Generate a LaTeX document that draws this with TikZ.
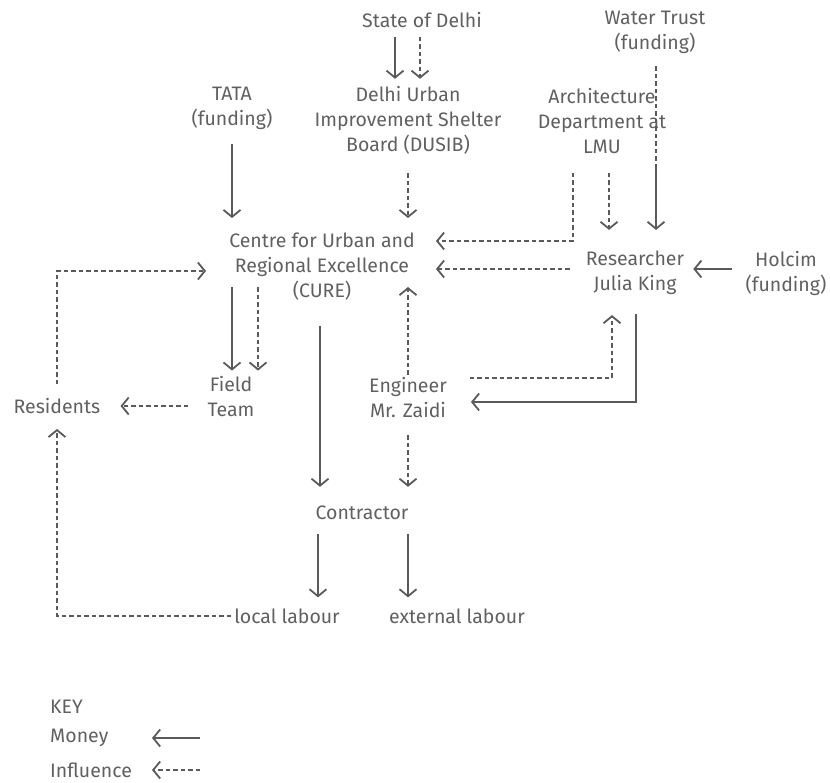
\documentclass[tikz,border=0pt]{standalone}
\usepackage{fontspec}
\setmainfont{Fira Sans}
\usetikzlibrary{arrows.meta}
\definecolor{inkgray}{HTML}{5A5A5A}
\definecolor{textgray}{HTML}{606060}
\tikzset{
  flow money/.style={draw=inkgray,line width=1.8pt,-{Straight Barb[length=7pt,width=17pt]}},
  flow influence/.style={flow money,dash pattern=on 4.5pt off 3pt},
  actor/.style={text=textgray,align=center,inner sep=3pt,font=\fontsize{19.5}{25}\selectfont}
}

\begin{document}
\begin{tikzpicture}[x=1pt,y=-1pt]
  \useasboundingbox (0,0) rectangle (830,782);
  \node[actor] (delhi) at (422,20) {State of Delhi};
  \node[actor] (water) at (655,32) {Water Trust\\(funding)};
  \node[actor] (dusib) at (408,120) {Delhi Urban\\Improvement Shelter\\Board (DUSIB)};
  \node[actor] (lmu) at (602,121) {Architecture\\Department at\\LMU};
  \node[actor] (tata) at (232,108) {TATA\\(funding)};
  \node[actor] (cure) at (322,267) {Centre for Urban and\\Regional Excellence\\(CURE)};
  \node[actor] (julia) at (635,273) {Researcher\\Julia King};
  \node[actor] (holcim) at (786,273) {Holcim\\(funding)};
  \node[actor] (field) at (231,397) {Field\\Team};
  \node[actor] (residents) at (57,406) {Residents};
  \node[actor] (zaidi) at (408,398) {Engineer\\Mr. Zaidi};
  \node[actor] (contractor) at (362,513) {Contractor};
  \node[actor] (local) at (287,616) {local labour};
  \node[actor] (external) at (457,616) {external labour};
  \node[actor,anchor=west] (key) at (47,707) {KEY};
  \node[actor,anchor=west] (money) at (47,738) {Money};
  \node[actor,anchor=west] (influence) at (47,770) {Influence};
  \coordinate (wt-split) at (656,168);
  \coordinate (cure-foot) at (322,287);

  \draw[flow money,shorten <=6pt,shorten >=4pt] (delhi.south -| 395,0) -- (dusib.north -| 395,0);
  \draw[flow influence,shorten <=6pt,shorten >=4pt] (delhi.south -| 420,0) -- (dusib.north -| 420,0);
  \draw[flow influence,-,shorten <=10pt] (water.south -| wt-split) -- (wt-split);
  \draw[flow money,shorten >=18pt] (wt-split) -- (julia.north -| wt-split);
  \draw[flow influence,shorten <=16pt,shorten >=18pt] (lmu.south -| 609,0) -- (julia.north -| 609,0);
  \draw[flow influence,shorten <=16pt,shorten >=18pt] (lmu.south -| 573,0) |- (cure.east |- 0,241);
  \draw[flow money,shorten <=12pt,shorten >=12pt] (tata.south) -- (cure.north -| tata.south);
  \draw[flow influence,shorten <=16pt,shorten >=12pt] (dusib.south) -- (cure.north -| dusib.south);
  \draw[flow influence,shorten <=13pt,shorten >=18pt] (julia.west |- 0,269) -- (cure.east |- 0,269);
  \draw[flow money,shorten <=10pt,shorten >=6pt] (holcim.west |- 0,269) -- (julia.east |- 0,269);
  \draw[flow influence,shorten <=11pt,shorten >=20pt] (residents.north) |- (cure.west |- 0,271);
  \draw[flow money,shorten >=3pt] (cure-foot -| 232,0) -- (field.north -| 232,0);
  \draw[flow influence,shorten >=3pt] (cure-foot -| 258,0) -- (field.north -| 258,0);
  \draw[flow influence,shorten <=16pt,shorten >=17pt] (field.west |- 0,406) -- (residents.east);
  \draw[flow influence] (zaidi.north) -- (cure-foot -| zaidi.north);
  \draw[flow influence,shorten <=20pt,shorten >=17pt] (zaidi.east |- 0,378) -| (julia.south -| 612,0);
  \draw[flow money,shorten <=16pt,shorten >=21pt] (julia.south -| 636,0) |- (zaidi.east |- 0,402);
  \draw[flow money,shorten <=22pt,shorten >=16pt] (cure.south -| 320,0) -- (contractor.north -| 320,0);
  \draw[flow influence,shorten <=14pt,shorten >=16pt] (zaidi.south) -- (contractor.north -| zaidi.south);
  \draw[flow money,shorten <=11pt,shorten >=8pt] (contractor.south -| 318,0) -- (local.north -| 318,0);
  \draw[flow money,shorten <=11pt,shorten >=8pt] (contractor.south -| 408,0) -- (external.north -| 408,0);
  \draw[flow influence,shorten >=12pt] (local.west) -| (residents.south);
  \draw[flow money] (money.east -| 200,0) -- (money.east -| 152,0);
  \draw[flow influence] (influence.east -| 200,0) -- (influence.east -| 152,0);
\end{tikzpicture}
\end{document}
